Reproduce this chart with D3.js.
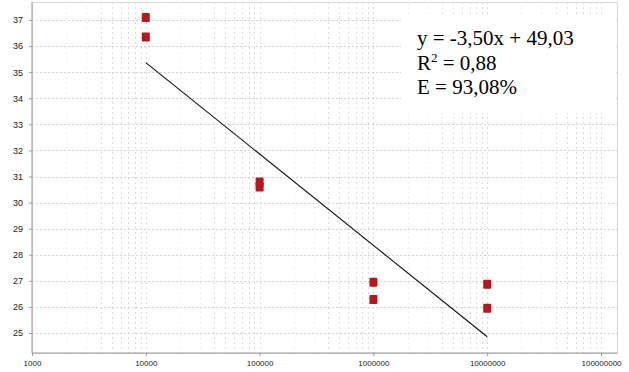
<!DOCTYPE html>
<html>
<head>
<meta charset="utf-8">
<script src="https://cdn.jsdelivr.net/npm/d3@7/dist/d3.min.js"></script>
<style>
  html, body { margin: 0; padding: 0; background: #fff; }
  svg { display: block; }
  .tick-label { font-family: "Liberation Sans Narrow", "Arial Narrow", "Liberation Sans", Arial, sans-serif; fill: #222; }
  .eq { font-family: "Liberation Serif", "Times New Roman", serif; font-size: 21px; fill: #000; }
</style>
</head>
<body>
<svg id="chart" width="629" height="372"></svg>
<script>
// Standard curve: template quantity (log scale) vs. Ct
const quantities = [1e4, 1e4, 1e5, 1e5, 1e6, 1e6, 1e7, 1e7];
const ctValues   = [37.1, 36.35, 30.79, 30.6, 26.95, 26.28, 26.87, 25.95];
const yTicks = [25, 26, 27, 28, 29, 30, 31, 32, 33, 34, 35, 36, 37];
const xTicks = [1e3, 1e4, 1e5, 1e6, 1e7, 1e8];
const fitLines = ["y = -3,50x + 49,03", "R² = 0,88", "E = 93,08%"];

(function () {
const svg = d3.select("#chart");
const pLeft = 32, pRight = 617, pTop = 2, pBottom = 353;

const x = d3.scaleLog().domain([1e3, 1e8]).range([pLeft, 601]);
const y = d3.scaleLinear().domain([25, 37]).range([333, 20]);

// plot frame
svg.append("rect")
  .attr("x", pLeft + 0.5).attr("y", pTop + 0.5)
  .attr("width", pRight - pLeft).attr("height", pBottom - pTop)
  .attr("fill", "#fff").attr("stroke", "#d8d8d8").attr("stroke-width", 1);

// vertical grid: every minor and major decade step
const vGrid = [];
for (let e = 3; e <= 8; e++) {
  for (let k = 1; k <= 9; k++) {
    const v = k * Math.pow(10, e);
    if (x(v) <= pRight - 1) vGrid.push({ v, k });
  }
}
svg.append("g").selectAll("line").data(vGrid).join("line")
  .attr("x1", d => Math.round(x(d.v)) + 0.5).attr("x2", d => Math.round(x(d.v)) + 0.5)
  .attr("y1", pTop).attr("y2", pBottom)
  .attr("stroke", d => (d.k === 2 || d.k === 3) ? "#efefef" : "#dcdcdc")
  .attr("stroke-dasharray", "2,3");

// horizontal grid
svg.append("g").selectAll("line").data(yTicks).join("line")
  .attr("x1", pLeft).attr("x2", pRight)
  .attr("y1", d => Math.round(y(d)) + 0.5).attr("y2", d => Math.round(y(d)) + 0.5)
  .attr("stroke", "#d2d2d2").attr("stroke-dasharray", "2,2");

// axes
const yAxis = d3.axisLeft(y).tickValues(yTicks).tickSize(3).tickPadding(6);
const gy = svg.append("g").attr("transform", `translate(${pLeft},0)`).call(yAxis);
gy.select(".domain").attr("stroke", "#9a9a9a").attr("d", `M0,${pTop}V${pBottom}`);
gy.selectAll(".tick line").attr("stroke", "#9a9a9a");
gy.selectAll(".tick text").attr("class", "tick-label").attr("font-size", 9).attr("fill", "#222");

const xAxis = d3.axisBottom(x).tickValues(xTicks).tickSize(3).tickPadding(4)
  .tickFormat(d => String(Math.round(d)));
const gx = svg.append("g").attr("transform", `translate(0,${pBottom})`).call(xAxis);
gx.select(".domain").attr("stroke", "#9a9a9a").attr("d", `M${pLeft},0H${pRight}`);
gx.selectAll(".tick line").attr("stroke", "#9a9a9a");
gx.selectAll(".tick text").attr("class", "tick-label").attr("font-size", 8).attr("fill", "#222");

// equation box
svg.append("rect")
  .attr("x", 401).attr("y", 15).attr("width", 215).attr("height", 98)
  .attr("fill", "#fff");
svg.append("g").selectAll("text").data(fitLines).join("text")
  .attr("class", "eq")
  .attr("x", 417)
  .attr("y", (d, i) => 45 + i * 24.5)
  .each(function (d) {
    const t = d3.select(this);
    if (d.startsWith("R²")) {
      t.append("tspan").text("R");
      t.append("tspan").text("2").attr("font-size", 13).attr("dy", -8);
      t.append("tspan").text(" = 0,88").attr("dy", 8);
    } else {
      t.text(d);
    }
  });

// least-squares fit on log10(quantity)
const lx = quantities.map(q => Math.log10(q));
const mx = d3.mean(lx), my = d3.mean(ctValues);
const slope = d3.sum(lx, (v, i) => (v - mx) * (ctValues[i] - my)) / d3.sum(lx, v => (v - mx) ** 2);
const intercept = my - slope * mx;
const [x0, x1] = d3.extent(lx);
svg.append("line")
  .attr("x1", x(Math.pow(10, x0))).attr("y1", y(intercept + slope * x0))
  .attr("x2", x(Math.pow(10, x1))).attr("y2", y(intercept + slope * x1))
  .attr("stroke", "#111").attr("stroke-width", 1.1);

// data points
svg.append("g").selectAll("rect").data(quantities).join("rect")
  .attr("x", d => x(d) - 4)
  .attr("y", (d, i) => y(ctValues[i]) - 4.5)
  .attr("width", 8).attr("height", 9)
  .attr("rx", 1)
  .attr("fill", "#b3191f");
})();
</script>
</body>
</html>
